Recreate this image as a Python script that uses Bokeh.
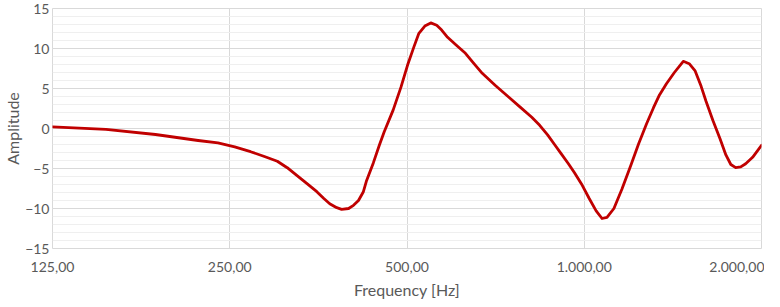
from bokeh.plotting import figure
from bokeh.models import FixedTicker, SingleIntervalTicker, Range1d
from bokeh.embed import file_html
from bokeh.resources import INLINE

# Data (frequency in Hz, amplitude)
freq = [125.0, 154.1, 187.0, 220.9, 238.7, 254.9, 271.2, 286.3, 301.1, 313.0,
        325.3, 338.2, 351.4, 361.2, 369.6, 379.9, 387.2, 397.9, 405.6, 413.6,
        421.6, 426.5, 438.3, 448.7, 457.4, 473.6, 488.5, 502.0, 513.7, 523.8,
        536.1, 548.7, 561.6, 572.6, 586.0, 604.5, 628.4, 648.1, 671.1, 705.7,
        742.2, 777.5, 814.5, 840.1, 866.5, 890.3, 914.8, 940.0, 962.0, 992.3,
        1019.6, 1047.6, 1072.0, 1093.0, 1123.0, 1158.5, 1200.0, 1237.0, 1276.0,
        1311.0, 1342.0, 1379.0, 1422.5, 1473.0, 1507.5, 1543.0, 1579.0, 1610.0,
        1654.0, 1700.0, 1740.0, 1774.0, 1808.0, 1844.0, 1880.0, 1931.6, 2000.0]
amplitude = [0.2, -0.1, -0.75, -1.5, -1.8, -2.3, -2.9, -3.5, -4.1, -4.9,
             -5.9, -6.9, -7.9, -8.75, -9.4, -9.9, -10.1, -10.0, -9.6, -9.0,
             -7.9, -6.6, -4.3, -2.1, -0.4, 2.3, 5.2, 8.1, 10.2, 11.9,
             12.8, 13.2, 12.9, 12.3, 11.4, 10.5, 9.4, 8.2, 6.9, 5.4,
             4.0, 2.7, 1.4, 0.4, -0.8, -2.0, -3.2, -4.4, -5.5, -7.1,
             -8.75, -10.3, -11.25, -11.1, -10.0, -7.6, -4.6, -1.9, 0.6,
             2.6, 4.2, 5.6, 7.0, 8.4, 8.1, 7.2, 5.3, 3.4,
             1.0, -1.25, -3.3, -4.5, -4.9, -4.8, -4.4, -3.6, -2.1]

x_ticks = [125, 250, 500, 1000, 2000]
x_tick_labels = ["125,00", "250,00", "500,00", "1.000,00", "2.000,00"]

FONT = "Lato"
TXT = "#595959"

p = figure(width=764, height=303, x_axis_type="log",
           x_range=Range1d(125, 2000), y_range=Range1d(-15, 15),
           output_backend="svg", toolbar_location=None,
           min_border_left=45, min_border_right=3, min_border_top=8,
           min_border_bottom=55)

p.line(freq, amplitude, line_color="#c00000", line_width=2.8,
       line_join="round", line_cap="round")

p.xaxis.ticker = FixedTicker(ticks=x_ticks, minor_ticks=[])
p.xaxis.major_label_overrides = {t: l for t, l in zip(x_ticks, x_tick_labels)}
p.yaxis.ticker = SingleIntervalTicker(interval=5, num_minor_ticks=5)

for ax in [p.xaxis[0], p.yaxis[0]]:
    ax.axis_line_color = None
    ax.major_tick_line_color = None
    ax.minor_tick_line_color = None
    ax.major_tick_out = 0
    ax.minor_tick_out = 0
    ax.major_label_text_font = FONT
    ax.major_label_text_font_size = "14px"
    ax.major_label_text_color = TXT
    ax.axis_label_text_font = FONT
    ax.axis_label_text_font_size = "16px"
    ax.axis_label_text_font_style = "normal"
    ax.axis_label_text_color = TXT

p.xaxis.axis_label = "Frequency [Hz]"
p.yaxis.axis_label = "Amplitude"
p.xaxis.major_label_standoff = 13
p.xaxis.axis_label_standoff = 5
p.yaxis.major_label_standoff = 3
p.yaxis.axis_label_standoff = 0

p.xgrid.grid_line_color = "#d9d9d9"
p.ygrid.grid_line_color = "#d9d9d9"
p.ygrid.minor_grid_line_color = "#efefef"
p.xgrid.minor_grid_line_color = None
p.outline_line_color = "#d9d9d9"
p.background_fill_color = "white"
p.border_fill_color = "white"

open("out.html", "w").write(file_html(p, INLINE))
